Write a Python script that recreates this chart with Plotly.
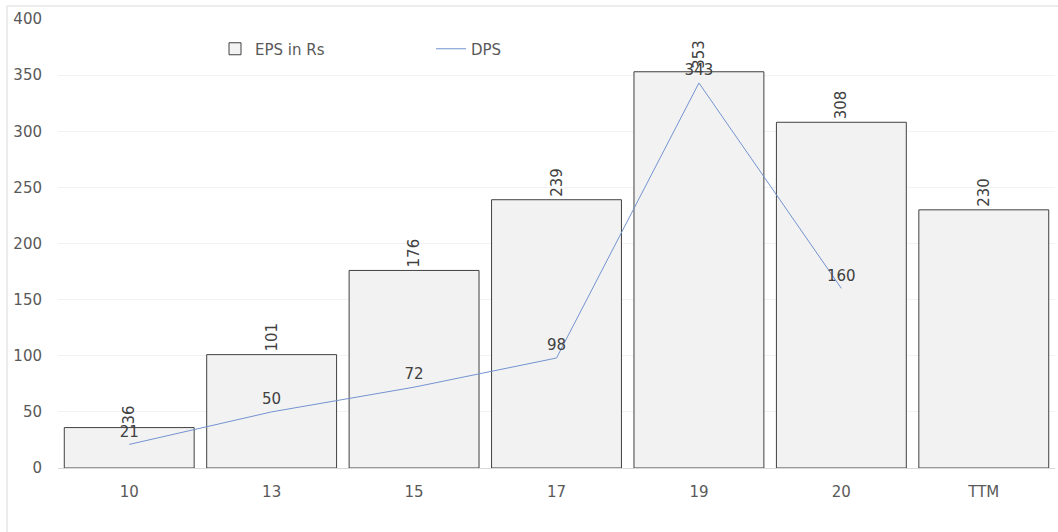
import plotly.graph_objects as go

categories = ["10", "13", "15", "17", "19", "20", "TTM"]
eps_values = [36, 101, 176, 239, 353, 308, 230]
dps_categories = ["10", "13", "15", "17", "19", "20"]
dps_values = [21, 50, 72, 98, 343, 160]
y_ticks = [0, 50, 100, 150, 200, 250, 300, 350, 400]

FONT = "DejaVu Sans, Verdana, sans-serif"
ML, MR, MT, MB = 58, 3, 19, 64
W, H = 1058, 532
PW, PH = W - ML - MR, H - MT - MB

fig = go.Figure()
fig.add_trace(go.Bar(
    x=categories, y=eps_values, name="EPS in Rs",
    marker=dict(color="#f2f2f2", line=dict(color="#404040", width=1)),
    text=[str(v) for v in eps_values], textposition="outside", textangle=-90,
    textfont=dict(family=FONT, size=15, color="#404040"),
    cliponaxis=False,
))
fig.add_trace(go.Scatter(
    x=dps_categories, y=dps_values, name="DPS", mode="lines+markers+text",
    line=dict(color="#7393d0", width=1),
    marker=dict(size=5, color="rgba(0,0,0,0)"),
    text=[str(v) for v in dps_values], textposition="top center",
    textfont=dict(family=FONT, size=15, color="#404040"),
    cliponaxis=False,
))

def px_x(p):
    return (p - ML) / PW

def px_y(p):
    return (H - MB - p) / PH

fig.add_shape(type="line", xref="paper", yref="paper",
              x0=px_x(7), x1=px_x(7), y0=px_y(540), y1=px_y(6),
              line=dict(color="#d9d9d9", width=1))
fig.add_shape(type="line", xref="paper", yref="paper",
              x0=px_x(7), x1=px_x(1070), y0=px_y(6), y1=px_y(6),
              line=dict(color="#d9d9d9", width=1))

fig.update_layout(
    width=W, height=H,
    margin=dict(l=ML, r=MR, t=MT, b=MB),
    paper_bgcolor="white", plot_bgcolor="white",
    font=dict(family=FONT, size=15, color="#595959"),
    bargap=0.088,
    showlegend=True,
    legend=dict(orientation="h", x=px_x(215), y=px_y(49), xanchor="left", yanchor="middle",
                entrywidth=171, entrywidthmode="pixels", itemwidth=30,
                font=dict(family=FONT, size=15, color="#595959"),
                bgcolor="rgba(0,0,0,0)"),
    xaxis=dict(type="category", categoryorder="array", categoryarray=categories,
               showgrid=False, showline=True, linecolor="#d9d9d9", linewidth=1,
               ticks="outside", ticklen=10, tickcolor="rgba(0,0,0,0)",
               tickfont=dict(family=FONT, size=15, color="#595959")),
    yaxis=dict(range=[0, 400], tickvals=y_ticks, showgrid=True, gridcolor="#f2f2f2",
               zeroline=False, showline=False,
               ticks="outside", ticklen=12, tickcolor="rgba(0,0,0,0)",
               tickfont=dict(family=FONT, size=15, color="#595959")),
)

fig.write_html("out.html", config={"displayModeBar": False},
               post_script="document.body.style.margin='0';")
